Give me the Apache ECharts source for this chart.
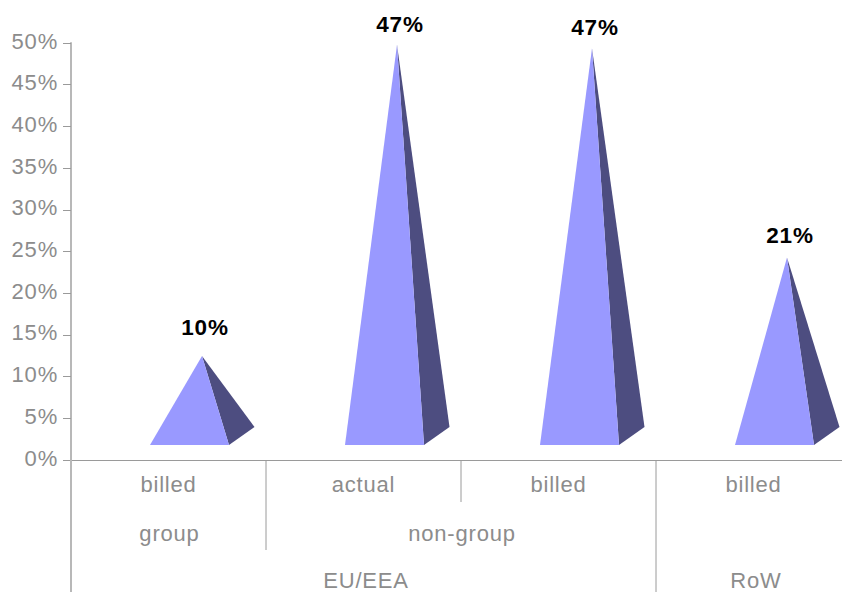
<!DOCTYPE html>
<html>
<head>
<meta charset="utf-8">
<script src="https://cdn.jsdelivr.net/npm/echarts@6/dist/echarts.min.js"></script>
<style>
html, body { margin: 0; padding: 0; background: #fff; }
#main { width: 842px; height: 592px; }
#main text { letter-spacing: 0.8px; }
</style>
</head>
<body>
<div id="main"></div>
<script>
// first row of the axis
var categories = ['billed', 'actual', 'billed', 'billed'];
// height of each pyramid, percent
var values = [9.6, 46.9, 46.5, 21.4];

// second and third row of the axis: name, first and last category
var groupNames = ['group', 'non-group'];
var groupFrom = [0, 1];
var groupTo = [0, 2];
var regionNames = ['EU/EEA', 'RoW'];
var regionFrom = [0, 3];
var regionTo = [2, 3];

// separator under each category's left edge, in px
var separatorLength = [132, 90, 42, 132];
// bold label distance above the tip, in px
var labelLift = [28, 20, 21, 22];

var grey = '#8c8c8c';
var font = '22px "Liberation Sans", Arial, sans-serif';

var myChart = echarts.init(document.getElementById('main'), null, { renderer: 'svg' });

function renderPyramid(params, api) {
	var i = api.value(0);
	var base = api.coord([i, 0]);
	var tip = api.coord([i, api.value(1)]);
	var cx = base[0];
	var frontY = base[1] - 15;
	var backY = base[1] - 33;
	var tipX = cx + 33.5;
	var tipY = tip[1] - 24;
	return {
		type: 'group',
		children: [{
			type: 'polygon',
			shape: { points: [[tipX, tipY], [cx + 60.5, frontY], [cx + 86, backY]] },
			style: { fill: '#4d4d80' }
		}, {
			type: 'polygon',
			shape: { points: [[tipX, tipY], [cx - 18.5, frontY], [cx + 60.5, frontY]] },
			style: { fill: '#9999ff' }
		}, {
			type: 'text',
			style: {
				x: tipX + 3,
				y: tipY - labelLift[i],
				text: Math.round(api.value(1)) + '%',
				font: 'bold 22.5px "Liberation Sans", Arial, sans-serif',
				fill: '#000',
				align: 'center',
				verticalAlign: 'middle'
			}
		}]
	};
}

function renderSeparator(params, api) {
	var i = api.value(0);
	var p = api.coord([i, 0]);
	var band = api.size([1, 0])[0];
	var x = p[0] - band / 2;
	return {
		type: 'line',
		shape: { x1: x, y1: p[1], x2: x, y2: p[1] + separatorLength[i] },
		style: i === 0 ? { stroke: '#b8b8b8', lineWidth: 2 } : { stroke: '#9a9a9a', lineWidth: 1 }
	};
}

// text of the lower axis rows, centred over the categories it spans
function rowRenderer(names, from, to, dx, dy) {
	return function(params, api) {
		var k = params.dataIndex;
		var a = api.coord([from[k], 0]);
		var b = api.coord([to[k], 0]);
		return {
			type: 'text',
			style: {
				x: (a[0] + b[0]) / 2 + dx,
				y: a[1] + dy,
				text: names[k],
				font: font,
				fill: grey,
				align: 'center',
				verticalAlign: 'middle'
			}
		};
	};
}

var option = {
	animation: false,
	grid: { left: 71, top: 43, width: 780, height: 417, outerBoundsMode: 'none' },
	xAxis: {
		type: 'category',
		data: categories,
		axisLine: { lineStyle: { color: '#9a9a9a', width: 1 } },
		axisTick: { show: false },
		axisLabel: { color: grey, fontSize: 22, fontFamily: 'Liberation Sans', margin: 13 }
	},
	yAxis: {
		type: 'value',
		min: 0,
		max: 50,
		interval: 5,
		splitLine: { show: false },
		axisLine: { show: true, lineStyle: { color: '#b8b8b8', width: 2 } },
		axisTick: { show: true, length: 8, lineStyle: { color: '#9a9a9a' } },
		axisLabel: { color: grey, fontSize: 22, fontFamily: 'Liberation Sans', margin: 13, verticalAlign: 'bottom', lineHeight: 4, formatter: '{value}%' }
	},
	series: [{
		type: 'custom',
		renderItem: renderSeparator,
		data: categories.map(function(c, i) { return [i]; }),
		silent: true
	}, {
		type: 'custom',
		renderItem: rowRenderer(groupNames, groupFrom, groupTo, 1, 73),
		data: groupNames,
		silent: true
	}, {
		type: 'custom',
		renderItem: rowRenderer(regionNames, regionFrom, regionTo, 2.5, 120),
		data: regionNames,
		silent: true
	}, {
		type: 'custom',
		renderItem: renderPyramid,
		data: values.map(function(v, i) { return [i, v]; }),
		encode: { x: 0, y: 1 }
	}]
};
myChart.setOption(option);
</script>
</body>
</html>
